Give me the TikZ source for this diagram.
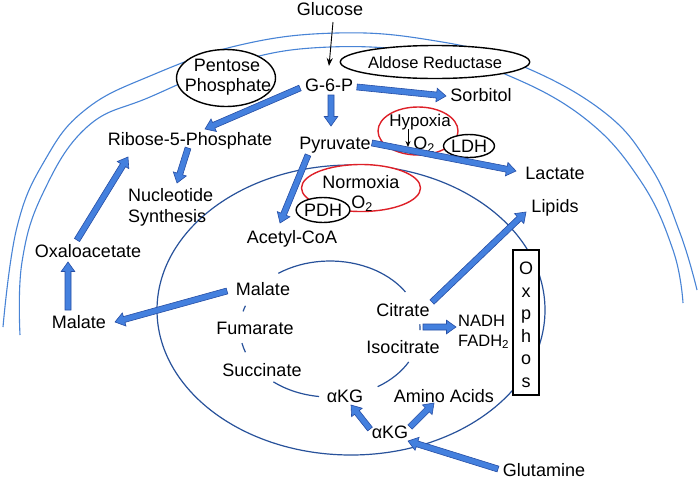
\documentclass[tikz,border=0pt]{standalone}
\usepackage{fontspec}
\setmainfont{Liberation Sans}
\usetikzlibrary{shapes.geometric,calc,arrows.meta}
\definecolor{arrfill}{RGB}{68,128,222}
\definecolor{arrline}{RGB}{38,78,165}
\definecolor{membr}{RGB}{72,132,214}
\definecolor{mito}{RGB}{40,82,155}
\definecolor{redo}{RGB}{222,32,40}
\newcommand\blkarrow[2]{%
  \coordinate (hb) at ($(#2)!9.5pt!(#1)$);
  \filldraw[barrow] ($(#1)!3pt!90:(#2)$) -- ($(hb)!3pt!90:(#2)$) -- ($(hb)!6.8pt!90:(#2)$) -- (#2) -- ($(hb)!6.8pt!-90:(#2)$) -- ($(hb)!3pt!-90:(#2)$) -- ($(#1)!3pt!-90:(#2)$) -- cycle;}
\begin{document}
\begin{tikzpicture}[x=1pt,y=-1pt,
  lbl/.style={inner sep=0pt, font=\fontsize{18}{22}\selectfont, text height=13pt, text depth=0pt},
  slbl/.style={inner sep=0pt, font=\fontsize{16.5}{20}\selectfont, text height=12pt, text depth=0pt},
  bl/.style={ellipse, draw=black, line width=1.4pt, fill=white, inner sep=0pt},
  rl/.style={ellipse, draw=redo, line width=1.4pt, fill=white, inner sep=0pt},
  barrow/.style={fill=arrfill, draw=arrline, line width=0.6pt, line join=miter},
  membrane/.style={draw=membr, line width=1.1pt},
  mitoline/.style={draw=mito, line width=1.2pt}]
\useasboundingbox (0,0) rectangle (700,485);
\fill[white] (0,0) rectangle (700,485);

% cell membrane
\draw[membrane] plot[smooth,tension=0.7] coordinates {(3,327) (17,227) (45,160) (85,110) (150,76) (240,45) (337,33) (430,40) (510,61) (600,109) (650,166) (680,233) (697,290)};
\draw[membrane] plot[smooth,tension=0.7] coordinates {(20,335) (22,262) (43,193) (87,127) (150,97) (240,61) (330,47) (430,53) (500,72) (583,117) (640,180) (673,250) (683,303)};

% mitochondrion
\coordinate (mc) at (351,310);
\draw[mitoline] (mc) ellipse [x radius=194pt, y radius=145pt];

% TCA cycle
\coordinate (tca) at (330,329);
\foreach \a/\b in {125/33, 165/160, -160/-168, -97/-129, -29/-58, 4/-1}
  \draw[mitoline] (tca) ++(\a:90pt and 68pt) arc[start angle=\a, end angle=\b, x radius=90pt, y radius=68pt];

% enzyme / condition ellipses
\node[bl, minimum width=99pt, minimum height=57pt] (ppe) at (226,78) {};
\node[lbl] (pp1) at (227,64.5) {Pentose};
\node[lbl] (pp2) at (228,85) {Phosphate};
\node[bl, slbl, minimum width=151pt, minimum height=33pt] (are) at (435,62) {Aldose Reductase};
\node[rl, minimum width=80pt, minimum height=48pt] (hyp) at (418,131) {};
\node[lbl, font=\fontsize{17}{20}\selectfont] (hyt) at (420,120) {Hypoxia};
\node[lbl] (hyo) at (424,143) {O\textsubscript{2}};
\node[bl, lbl, minimum width=48pt, minimum height=23pt] (ldh) at (469,146) {LDH};
\node[rl, minimum width=119pt, minimum height=47pt] (nor) at (361,188) {};
\node[lbl] (nort) at (361,182) {Normoxia};
\node[lbl] (noro) at (362,202) {O\textsubscript{2}};
\node[bl, lbl, minimum width=48pt, minimum height=25pt] (pdh) at (323,210) {PDH};

% Oxphos box
\node[draw=black, line width=1.4pt, fill=white, minimum width=26pt, minimum height=145pt, inner sep=0pt] (ox) at (526,322.5) {};
\foreach \l [count=\i] in {O,x,p,h,o,s}
  \node[inner sep=0pt, font=\fontsize{18}{22}\selectfont, anchor=base] (oxl\i) at (526,252+22.5*\i) {\l};

% metabolites
\node[lbl] (glucose) at (330,9) {Glucose};
\node[lbl] (g6p) at (329,85) {G-6-P};
\node[lbl] (sorbitol) at (481,95) {Sorbitol};
\node[lbl] (ribose) at (190,139) {Ribose-5-Phosphate};
\node[lbl] (pyruvate) at (335,143) {Pyruvate};
\node[lbl] (lactate) at (555,173) {Lactate};
\node[lbl] (lipids) at (555,206) {Lipids};
\node[lbl] (acetyl) at (292,237) {Acetyl-CoA};
\node[lbl, anchor=west] (nuc1) at (128,194.5) {Nucleotide};
\node[lbl, anchor=west] (nuc2) at (128,216) {Synthesis};
\node[lbl] (oxalo) at (88,251) {Oxaloacetate};
\node[lbl] (malo) at (79,322) {Malate};
\node[lbl] (mali) at (263,289) {Malate};
\node[lbl] (fum) at (255,328) {Fumarate};
\node[lbl] (suc) at (262,370) {Succinate};
\node[lbl] (cit) at (403,310) {Citrate};
\node[lbl] (iso) at (403,347) {Isocitrate};
\node[slbl, anchor=west] (nadh) at (458,320) {NADH};
\node[slbl, anchor=west] (fadh) at (458,340) {FADH\textsubscript{2}};
\node[lbl] (akg1) at (345,396) {αKG};
\node[lbl] (amino) at (444,396) {Amino Acids};
\node[lbl] (akg2) at (390,432) {αKG};
\node[lbl] (glut) at (544,470) {Glutamine};

% glucose uptake
\coordinate (g0) at (333,22);
\coordinate (g1) at (329,66);
\draw[line width=0.9pt, -{Stealth[length=8pt, width=6pt]}] (g0) -- (g1);

% block arrows
\coordinate (a1s) at (357,87);  \coordinate (a1e) at (446,96);
\coordinate (a2s) at (331,95);  \coordinate (a2e) at (331,126);
\coordinate (a3s) at (300,88);  \coordinate (a3e) at (205,129);
\coordinate (a4s) at (372,143); \coordinate (a4e) at (516,171);
\coordinate (a5s) at (308,155); \coordinate (a5e) at (280,223);
\coordinate (a6s) at (188,148); \coordinate (a6e) at (177,183);
\coordinate (a7s) at (77,240);  \coordinate (a7e) at (128,157);
\coordinate (a8s) at (68,310);  \coordinate (a8e) at (68,262);
\coordinate (a9s) at (227,291); \coordinate (a9e) at (115,322);
\coordinate (a10s) at (432,302); \coordinate (a10e) at (526,212);
\coordinate (a11s) at (423,327); \coordinate (a11e) at (456,327);
\coordinate (a12s) at (498,469); \coordinate (a12e) at (408,441);
\coordinate (a13s) at (370,429); \coordinate (a13e) at (351,405);
\coordinate (a14s) at (410,427); \coordinate (a14e) at (434,403);
\foreach \i in {1,...,14} {\blkarrow{a\i s}{a\i e}}

% hypoxia: lowered O2
\coordinate (hd0) at (408,129);
\coordinate (hd1) at (408,147);
\draw[line width=0.9pt, -{Stealth[length=6pt, width=5pt]}] (hd0) -- (hd1);
\end{tikzpicture}
\end{document}
